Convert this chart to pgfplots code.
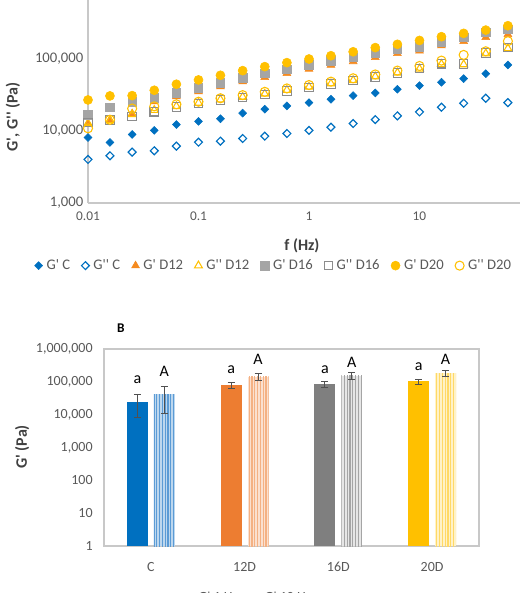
\documentclass[border=0pt]{standalone}
\usepackage{fontspec}
\setmainfont{Carlito}[Ligatures=TeXOff]
\usepackage{pgfplots}
\usepackage{pgfplotstable}
\pgfplotsset{compat=1.18}
\usetikzlibrary{patterns.meta}

\definecolor{xblue}{HTML}{0070C0}
\definecolor{xorange}{HTML}{F58A1F}
\definecolor{xyellow}{HTML}{FFC000}
\definecolor{xgray}{HTML}{A5A5A5}
\definecolor{xgrayd}{HTML}{8C8C8C}
\definecolor{axisgray}{HTML}{C8C8C8}
\definecolor{labelgray}{HTML}{595959}
\definecolor{titlegray}{HTML}{404040}
\definecolor{errgray}{HTML}{505050}
% G' 12D/16D/20D bars and their 10 Hz striped twins
\definecolor{cOrange}{HTML}{ED7D31}
\definecolor{cGray}{HTML}{7F7F7F}
\definecolor{lBlueA}{HTML}{BDD7EE}\definecolor{lBlueB}{HTML}{5B9BD5}
\definecolor{lOrA}{HTML}{FBE0CF}\definecolor{lOrB}{HTML}{F4B183}
\definecolor{lGrA}{HTML}{E6E6E6}\definecolor{lGrB}{HTML}{A5A5A5}
\definecolor{lYeA}{HTML}{FFF2C8}\definecolor{lYeB}{HTML}{FFD966}

% frequency sweep: storage (Gp) and loss (Gpp) moduli, Pa
\pgfplotstableread{
f      GpC   GppC  GpD12  GppD12 GpD16  GppD16 GpD20  GppD20
0.01   8130  4030  12600  12800  16800  13100  27000  10900
0.0158 6930  4530  14300  14000  21400  14300  30700  14300
0.0251 8950  5090  17500  17000  25600  15900  31000  20500
0.0398 10200 5310  25600  19500  29100  18500  36800  22000
0.0631 12300 6160  30100  22000  34200  21500  44600  23500
0.1    13600 7000  35300  24500  40100  24000  51200  25500
0.158  14800 7230  41400  27300  47000  26800  59400  28500
0.251  17700 7870  48500  29700  55100  29200  68900  31500
0.398  20100 8480  55700  32800  63300  32200  78300  35000
0.631  22300 9230  63300  37000  71900  36200  89000  39000
1      24800 10200 72700  41000  82600  40300  100000 43500
1.58   27600 11300 82500  45500  93800  45000  111000 48500
2.51   31000 12700 92400  50500  105000 50000  126000 54000
3.98   33800 14400 105500 57000  120000 56500  144000 61000
6.31   38000 16200 119700 64500  136000 64000  160000 69000
10     42700 18400 130000 73000  148000 73500  181000 80000
15.8   47500 21400 153000 85000  174000 86000  204000 95000
25.1   53400 24300 176000 84000  200000 85000  227000 114000
39.8   62600 28500 200000 119000 234000 121000 252000 128000
63.1   82600 24800 220000 140000 258000 145000 290000 177000
}\sweep

\begin{document}
\begin{tikzpicture}

% ---------- A: frequency sweep ----------
\begin{axis}[
  at={(66pt,292.5pt)}, anchor=south west,
  scale only axis, width=331.5pt, height=162pt,
  xmode=log, ymode=log,
  xmin=0.01, xmax=100, ymin=1000, ymax=1000000,
  axis x line*=bottom, axis y line*=left,
  axis line style={-, draw=axisgray, line width=0.9pt},
  tick style={draw=none},
  xtick={0.01,0.1,1,10}, xticklabels={0.01,0.1,1,10},
  ytick={1000,10000,100000},
  yticklabels={{1,000},{10,000},{100,000}},
  xticklabel style={font=\fontsize{10}{12}\selectfont, text=labelgray, yshift=-3pt},
  yticklabel style={font=\fontsize{11}{13}\selectfont, text=labelgray},
  xlabel={f (Hz)}, ylabel={G', G'' (Pa)},
  every axis x label/.style={at={(axis description cs:0.484,-0.2)}, anchor=center,
     font=\fontsize{12}{14}\selectfont\bfseries, text=titlegray},
  every axis y label/.style={at={(axis description cs:-0.17,0.398)}, anchor=center, rotate=90,
     font=\fontsize{12}{14}\selectfont\bfseries, text=titlegray},
  legend columns=8,
  legend style={at={(axis description cs:0.419,-0.29)}, anchor=center, draw=none, fill=none,
     font=\fontsize{11}{13}\selectfont, text=labelgray,
     nodes={inner sep=0.5pt},
     /tikz/every odd column/.append style={column sep=2.5pt},
     /tikz/every even column/.append style={column sep=8pt}},
  legend image code/.code={\draw[mark repeat=2,mark phase=2,#1] plot coordinates {(0pt,0pt)(4pt,0pt)(8pt,0pt)};},
]
\addplot[only marks, mark=square*, mark size=2.1pt, mark options={rotate=45, fill=xblue, draw=xblue}]
  table[x=f, y=GpC]{\sweep};
\addlegendentry{G' C}
\addplot[only marks, mark=square, mark size=2.1pt, mark options={rotate=45, draw=xblue, line width=0.9pt}]
  table[x=f, y=GppC]{\sweep};
\addlegendentry{G'' C}
\addplot[only marks, mark=triangle*, mark size=3.4pt, mark options={fill=xorange, draw=xorange}]
  table[x=f, y=GpD12]{\sweep};
\addlegendentry{G' D12}
\addplot[only marks, mark=triangle, mark size=3.4pt, mark options={draw=xyellow, line width=0.8pt}]
  table[x=f, y=GppD12]{\sweep};
\addlegendentry{G'' D12}
\addplot[only marks, mark=square*, mark size=3.2pt, mark options={fill=xgray, draw=xgray}]
  table[x=f, y=GpD16]{\sweep};
\addlegendentry{G' D16}
\addplot[only marks, mark=square, mark size=3.2pt, mark options={draw=xgrayd, line width=0.8pt}]
  table[x=f, y=GppD16]{\sweep};
\addlegendentry{G'' D16}
\addplot[only marks, mark=*, mark size=3.4pt, mark options={fill=xyellow, draw=xyellow}]
  table[x=f, y=GpD20]{\sweep};
\addlegendentry{G' D20}
\addplot[only marks, mark=o, mark size=3.4pt, mark options={draw=xyellow, line width=0.8pt}]
  table[x=f, y=GppD20]{\sweep};
\addlegendentry{G'' D20}
\end{axis}

% ---------- B: G' at 1 Hz and 10 Hz ----------
\begin{axis}[
  at={(78pt,35.25pt)}, anchor=south west,
  scale only axis, width=281.25pt, height=147.75pt,
  clip=false,
  ymode=log, ymin=1, ymax=1000000, xmin=-0.5, xmax=3.5,
  axis line style={draw=axisgray, line width=0.9pt},
  tick style={draw=none},
  ybar, bar width=15.75pt, bar shift=0pt,
  xtick={0,1,2,3}, xticklabels={C,12D,16D,20D},
  ytick={1,10,100,1000,10000,100000,1000000},
  yticklabels={1,10,100,{1,000},{10,000},{100,000},{1,000,000}},
  xticklabel style={font=\fontsize{10.5}{12}\selectfont, text=labelgray, yshift=-4.5pt},
  yticklabel style={font=\fontsize{10.5}{12}\selectfont, text=labelgray, xshift=-5pt},
  ylabel={G' (Pa)},
  every axis y label/.style={at={(axis description cs:-0.218,0.503)}, anchor=center, rotate=90,
     font=\fontsize{12}{14}\selectfont\bfseries, text=titlegray},
  error bars/y dir=both, error bars/y explicit,
  error bars/error bar style={draw=errgray, line width=0.7pt},
  error bars/error mark options={rotate=90, mark size=2.6pt, draw=errgray, line width=0.7pt},
  legend columns=2,
  legend style={at={(axis description cs:0.392,-0.262)}, anchor=center, draw=none, fill=none,
     font=\fontsize{10.5}{12}\selectfont, text=labelgray,
     /tikz/every even column/.append style={column sep=10pt}},
  legend image code/.code={\fill[#1] (0pt,-3pt) rectangle (6pt,3pt);},
]
\addplot[fill=xblue, draw=none] coordinates {(-0.144,24800) +- (0,16600)};
\addlegendentry{G' 1 Hz}
\addplot[forget plot, fill=cOrange, draw=none] coordinates {(0.856,77900) +- (0,17200)};
\addplot[forget plot, fill=cGray, draw=none] coordinates {(1.856,83500) +- (0,17200)};
\addplot[forget plot, fill=xyellow, draw=none] coordinates {(2.856,103000) +- (0,17500)};

\addplot[fill=lBlueA, draw=none, postaction={pattern={Lines[angle=90,distance=2.1pt,line width=0.8pt]}, pattern color=lBlueB}]
  coordinates {(0.144,41500) +- (0,30300)};
\addlegendentry{G' 10 Hz}
\addplot[forget plot, fill=lOrA, draw=none, postaction={pattern={Lines[angle=90,distance=2.1pt,line width=0.8pt]}, pattern color=lOrB}]
  coordinates {(1.144,142900) +- (0,33500)};
\addplot[forget plot, fill=lGrA, draw=none, postaction={pattern={Lines[angle=90,distance=2.1pt,line width=0.8pt]}, pattern color=lGrB}]
  coordinates {(2.144,153000) +- (0,33800)};
\addplot[forget plot, fill=lYeA, draw=none, postaction={pattern={Lines[angle=90,distance=2.1pt,line width=0.8pt]}, pattern color=lYeB}]
  coordinates {(3.144,180400) +- (0,35500)};

% significance letters
\begin{scope}[font=\fontsize{12}{14}\selectfont, text=black]
\node at (axis cs:-0.144,119000) {a};
\node at (axis cs:0.144,208000) {A};
\node at (axis cs:0.856,240000) {a};
\node at (axis cs:1.144,483000) {A};
\node at (axis cs:1.856,240000) {a};
\node at (axis cs:2.144,392000) {A};
\node at (axis cs:2.856,296000) {a};
\node at (axis cs:3.144,483000) {A};
\end{scope}
\node[font=\fontsize{10}{12}\selectfont\bfseries] at (axis description cs:0.045,1.107) {B};
\end{axis}

\pgfresetboundingbox
\useasboundingbox (0,0) rectangle (389.25pt,444.75pt);
\end{tikzpicture}
\end{document}
